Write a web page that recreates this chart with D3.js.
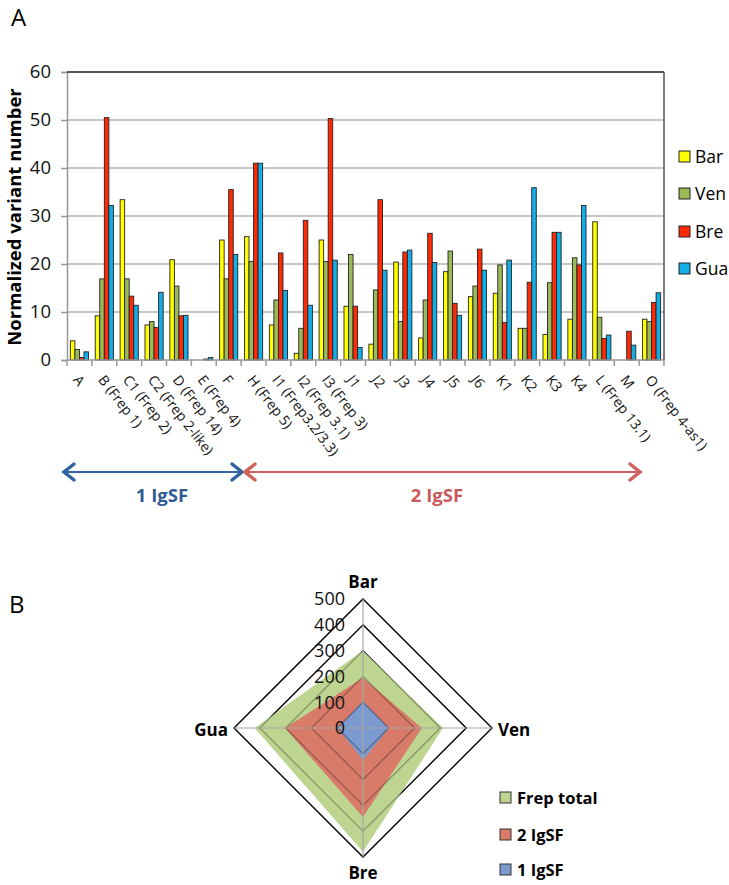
<!DOCTYPE html>
<html><head><meta charset="utf-8">
<script src="https://cdn.jsdelivr.net/npm/d3@7/dist/d3.min.js"></script>
<style>
body{margin:0;background:#fff;}
svg{display:block;font-family:"Open Sans", Lato, sans-serif;}
</style></head>
<body>
<svg id="c" width="729" height="885"></svg>
<script>
// ---------- DATA ----------
const categories = ["A","B (Frep 1)","C1 (Frep 2)","C2 (Frep 2-like)","D (Frep 14)","E (Frep 4)","F","H (Frep 5)","I1 (Frep3.2/3.3)","I2 (Frep 3.1)","I3 (Frep 3)","J1","J2","J3","J4","J5","J6","K1","K2","K3","K4","L (Frep 13.1)","M","O (Frep 4-as1)"];
const seriesNames = ["Bar","Ven","Bre","Gua"];
const barVals = [4.0,9.2,33.4,7.3,20.9,0,25.0,25.7,7.3,1.4,25.0,11.2,3.3,20.4,4.6,18.4,13.2,13.9,6.6,5.3,8.5,28.8,0,8.5];
const venVals = [2.2,16.9,16.9,8.0,15.4,0,16.9,20.5,12.5,6.6,20.5,22.0,14.6,8.0,12.5,22.7,15.4,19.8,6.6,16.1,21.3,8.9,0,8.0];
const breVals = [0.5,50.5,13.3,6.8,9.2,0.2,35.5,41.0,22.3,29.1,50.3,11.2,33.4,22.5,26.4,11.8,23.1,7.8,16.2,26.6,19.8,4.5,6.0,12.0];
const guaVals = [1.7,32.2,11.4,14.1,9.3,0.5,22.0,41.0,14.5,11.4,20.8,2.6,18.7,22.9,20.3,9.3,18.7,20.8,35.9,26.6,32.2,5.2,3.1,14.0];
const yTicks = [0,10,20,30,40,50,60];

const radarAxes = ["Bar","Ven","Bre","Gua"];
const radarSeries = ["Frep total","2 IgSF","1 IgSF"];
const frepTotal = [300,310,480,420];
const igsf2 = [195,228,345,302];
const igsf1 = [105,100,125,98];
const radarTicks = [0,100,200,300,400,500];

// ---------- STYLE ----------
const barColors = ["#ffff00","#9bbb59","#ff2a05","#12aee8"];
const radarColors = ["#bdd591","#d87c69","#7b9acf"];

const svg = d3.select("#c");

// ---------- PANEL A ----------
svg.append("text").attr("x",11).attr("y",26).attr("font-size",24).text("A");

const x0 = d3.scaleBand().domain(categories).range([67,664]).paddingInner(0.27).paddingOuter(0.135);
const x1 = d3.scaleBand().domain(seriesNames).range([0,x0.bandwidth()]);
const y = d3.scaleLinear().domain([0,60]).range([360,72]);

const gA = svg.append("g");
gA.selectAll("line.grid").data(yTicks.filter(t=>t>0 && t<60)).join("line")
  .attr("x1",67).attr("x2",664).attr("y1",d=>y(d)).attr("y2",d=>y(d))
  .attr("stroke","#b3b3b3").attr("stroke-width",1.5);

const series = [barVals,venVals,breVals,guaVals];
series.forEach((vals,si)=>{
  gA.append("g").selectAll("rect").data(vals).join("rect")
    .attr("x",(d,i)=>x0(categories[i])+x1(seriesNames[si]))
    .attr("width",x1.bandwidth())
    .attr("y",d=>y(d))
    .attr("height",d=>y(0)-y(d))
    .attr("fill",barColors[si])
    .attr("stroke",d=>d>0?"#222":"none").attr("stroke-width",0.9);
});

const yAxis = d3.axisLeft(y).tickValues(yTicks).tickSize(6).tickPadding(10);
const gy = gA.append("g").attr("transform","translate(67,0)").call(yAxis);
gy.select(".domain").attr("stroke","#999").attr("stroke-width",1.5);
gy.selectAll(".tick line").attr("stroke","#999").attr("stroke-width",1.5);
gy.selectAll(".tick text").attr("font-size",18.5).attr("fill","#111").attr("font-family","'Open Sans', sans-serif");

const boundaries = d3.range(categories.length+1).map(i=>67+ i*(597/categories.length));
gA.append("line").attr("x1",67).attr("x2",664).attr("y1",360).attr("y2",360).attr("stroke","#999").attr("stroke-width",1.5);
gA.selectAll("line.xt").data(boundaries).join("line")
  .attr("x1",d=>d).attr("x2",d=>d).attr("y1",360).attr("y2",366).attr("stroke","#999").attr("stroke-width",1.5);
gA.append("line").attr("x1",67).attr("x2",664).attr("y1",72).attr("y2",72).attr("stroke","#555").attr("stroke-width",2);
gA.append("line").attr("x1",664).attr("x2",664).attr("y1",72).attr("y2",360).attr("stroke","#555").attr("stroke-width",1.5);

gA.selectAll("text.xl").data(categories).join("text")
  .attr("transform",d=>`translate(${x0(d)+x0.bandwidth()/2-3},377) rotate(52)`)
  .attr("font-size",14).attr("dy","0.35em").attr("fill","#111").text(d=>d);

svg.append("text").attr("transform","translate(21,217) rotate(-90)")
  .attr("text-anchor","middle").attr("font-size",18.5).attr("font-weight","bold").text("Normalized variant number");

const lg = svg.append("g");
seriesNames.forEach((s,i)=>{
  const cy = [157,194,232,269][i];
  lg.append("rect").attr("x",679).attr("y",cy-6).attr("width",11).attr("height",11)
    .attr("fill",barColors[i]).attr("stroke","#222").attr("stroke-width",1);
  lg.append("text").attr("x",695).attr("y",cy+6).attr("font-size",17.5).text(s);
});

function arrow(x1a,x2a,yy,color){
  const g = svg.append("g").attr("stroke",color).attr("fill","none").attr("stroke-linecap","round");
  g.append("line").attr("x1",x1a+2).attr("x2",x2a-2).attr("y1",yy).attr("y2",yy).attr("stroke-width",2.2);
  g.append("path").attr("d",`M${x1a+11},${yy-8} L${x1a+1},${yy} L${x1a+11},${yy+8}`).attr("stroke-width",3.5);
  g.append("path").attr("d",`M${x2a-11},${yy-8} L${x2a-1},${yy} L${x2a-11},${yy+8}`).attr("stroke-width",3.5);
}
arrow(63,243,472,"#2f64a0");
arrow(244,641,472,"#d0605e");
svg.append("text").attr("x",162).attr("y",502).attr("text-anchor","middle").attr("font-size",18.5).attr("font-weight","bold").attr("fill","#2f5b92").text("1 IgSF");
svg.append("text").attr("x",437).attr("y",502).attr("text-anchor","middle").attr("font-size",18.5).attr("font-weight","bold").attr("fill","#c95a5a").text("2 IgSF");

// ---------- PANEL B ----------
svg.append("text").attr("x",9).attr("y",613).attr("font-size",24).text("B");

const cx = 363, cyR = 728, R = 129;
const r = d3.scaleLinear().domain([0,500]).range([0,R]);
const angles = radarAxes.map((a,i)=> -Math.PI/2 + i*Math.PI/2);
const pt = (v,i)=>[cx + r(v)*Math.cos(angles[i]), cyR + r(v)*Math.sin(angles[i])];
const ringPath = v => "M" + radarAxes.map((a,i)=>pt(v,i).join(",")).join("L") + "Z";

const gB = svg.append("g");
gB.selectAll("path.ring").data(radarTicks.filter(t=>t>0)).join("path")
  .attr("d",ringPath).attr("fill","none").attr("stroke","#000").attr("stroke-width",1.3);
[frepTotal,igsf2,igsf1].forEach((vals,si)=>{
  gB.append("path").attr("d","M"+vals.map((v,i)=>pt(v,i).join(",")).join("L")+"Z")
    .attr("fill",radarColors[si]).attr("stroke","none");
});
gB.selectAll("path.ring2").data(radarTicks.filter(t=>t>0)).join("path")
  .attr("d",ringPath).attr("fill","none").attr("stroke","#000").attr("stroke-opacity",0.3).attr("stroke-width",1.3);
radarAxes.forEach((a,i)=>{
  const p = pt(500,i);
  gB.append("line").attr("x1",cx).attr("y1",cyR).attr("x2",p[0]).attr("y2",p[1]).attr("stroke","#a6a6a6").attr("stroke-width",1.2);
});
gB.selectAll("text.rt").data(radarTicks).join("text")
  .attr("x",345).attr("y",d=>cyR - r(d)).attr("dy","0.35em").attr("text-anchor","end")
  .attr("font-size",18).attr("fill","#111").text(d=>d);
const axisLabelPos = [[363,588,"middle"],[498,736,"start"],[363,879,"middle"],[228,736,"end"]];
radarAxes.forEach((a,i)=>{
  gB.append("text").attr("x",axisLabelPos[i][0]).attr("y",axisLabelPos[i][1]).attr("text-anchor",axisLabelPos[i][2])
    .attr("font-size",17).attr("font-weight","bold").text(a);
});
radarSeries.forEach((s,i)=>{
  const yy = [798,835,870][i];
  gB.append("rect").attr("x",500).attr("y",yy-6).attr("width",11).attr("height",11)
    .attr("fill",radarColors[i]).attr("stroke","#333").attr("stroke-width",1);
  gB.append("text").attr("x",517).attr("y",yy+6).attr("font-size",16.5).attr("font-weight","bold").text(s);
});
</script>
</body></html>
